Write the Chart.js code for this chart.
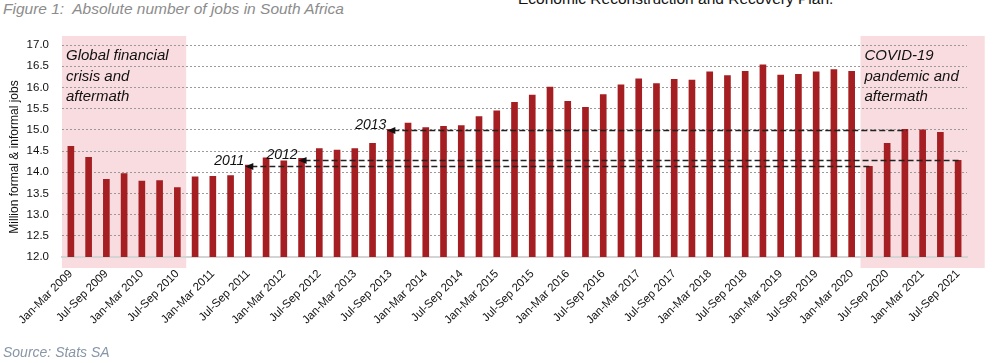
<!DOCTYPE html>
<html>
<head>
<meta charset="utf-8">
<script src="https://cdn.jsdelivr.net/npm/chart.js@4.4.1/dist/chart.umd.min.js"></script>
<style>
  html, body { margin: 0; padding: 0; background: #fff; }
  body { width: 997px; height: 363px; position: relative; overflow: hidden; font-family: Arial, "Liberation Sans", sans-serif; }
  #wrap { position: absolute; left: 0; top: 0; width: 997px; height: 363px; }
  .fig { position: absolute; left: 3px; top: 0px; font: italic 15.5px "Liberation Sans Narrow", "Arial Narrow", Arial, sans-serif; color: #8c8c8c; white-space: nowrap; }
  .cut { position: absolute; left: 518px; top: -10px; font: 15.5px Arial, "Liberation Sans", sans-serif; color: #111; white-space: nowrap; line-height: 17px; }
  .src { position: absolute; left: 3px; top: 344px; font: italic 14px Arial, "Liberation Sans", sans-serif; color: #8896a8; white-space: nowrap; }
</style>
</head>
<body>
<div class="fig">Figure 1:&nbsp; Absolute number of jobs in South Africa</div>
<div class="cut">Economic Reconstruction and Recovery Plan.</div>
<div id="wrap"><canvas id="chart"></canvas></div>
<div class="src">Source: Stats SA</div>
<script>
// quarters Jan-Mar 2009 .. Jul-Sep 2021
const years = [2009, 2010, 2011, 2012, 2013, 2014, 2015, 2016, 2017, 2018, 2019, 2020, 2021];
const quarters = ["Jan-Mar", "Apr-Jun", "Jul-Sep", "Oct-Dec"];
const labels = [];
years.forEach((y) => {
  quarters.forEach((q) => {
    if (labels.length < 51) labels.push(q + " " + y);
  });
});

// million formal & informal jobs
const jobs = [
  14.61, 14.35, 13.83, 13.97, 13.79, 13.80, 13.64, 13.89, 13.90, 13.92,
  14.17, 14.34, 14.27, 14.33, 14.56, 14.52, 14.56, 14.68, 15.01, 15.16,
  15.05, 15.08, 15.10, 15.31, 15.45, 15.65, 15.82, 16.01, 15.67, 15.53,
  15.83, 16.06, 16.20, 16.09, 16.19, 16.17, 16.37, 16.28, 16.38, 16.53,
  16.29, 16.31, 16.37, 16.42, 16.38, 14.14, 14.68, 15.01, 15.00, 14.94,
  14.28
];

// shaded periods (first and last category index)
const shadeRanges = [[0, 6], [45, 51]];
const shadeTexts = [
  ["Global financial", "crisis and", "aftermath"],
  ["COVID-19", "pandemic and", "aftermath"]
];

// reference lines: label, from index, to index, level
const refYears = ["2011", "2012", "2013"];
const refFrom = [10, 13, 18];
const refTo = [45, 50, 47];
const refLevel = [14.15, 14.29, 15.0];

const yTitle = "Million formal & informal jobs";

const BAR = "#a51e22";
const SHADE = "#f8dcdf";
const FONT = "Arial, 'Liberation Sans', sans-serif";

// pink background boxes + their captions
const shadePlugin = {
  id: "shade",
  beforeDraw(chart) {
    const { ctx, chartArea, scales } = chart;
    const catW = chartArea.width / labels.length;
    const top = scales.y.getPixelForValue(17) - 9;
    const bottom = chartArea.bottom + 11;
    ctx.save();
    shadeRanges.forEach((r, i) => {
      const x0 = chartArea.left + r[0] * catW;
      const x1 = chartArea.left + (r[1] + 1) * catW;
      ctx.fillStyle = SHADE;
      ctx.fillRect(x0, top, x1 - x0, bottom - top);
      ctx.fillStyle = "#111";
      ctx.font = "italic 15px " + FONT;
      ctx.textBaseline = "middle";
      ctx.textAlign = "left";
      shadeTexts[i].forEach((t, k) => {
        ctx.fillText(t, x0 + 4, top + 20 + k * 20.5);
      });
    });
    // y axis title, drawn by hand so it sits where the original does
    ctx.translate(15, chartArea.top + chartArea.height / 2 + 6);
    ctx.rotate(-Math.PI / 2);
    ctx.fillStyle = "#111";
    ctx.font = "12px " + FONT;
    ctx.textAlign = "center";
    ctx.fillText(yTitle, 0, 0);
    ctx.restore();
  }
};

// dashed reference lines with arrows
const refPlugin = {
  id: "refs",
  afterDatasetsDraw(chart) {
    const { ctx, scales } = chart;
    const x = scales.x, y = scales.y;
    ctx.save();
    refYears.forEach((yr, i) => {
      const yy = Math.round(y.getPixelForValue(refLevel[i])) + 0.5;
      const xs = x.getPixelForValue(refFrom[i]) - 3;
      const xe = x.getPixelForValue(refTo[i]) + 2;
      ctx.strokeStyle = "#222";
      ctx.lineWidth = 1.5;
      ctx.setLineDash([6, 3]);
      ctx.beginPath();
      ctx.moveTo(xs + 6, yy);
      ctx.lineTo(xe, yy);
      ctx.stroke();
      ctx.setLineDash([]);
      ctx.fillStyle = "#111";
      ctx.beginPath();
      ctx.moveTo(xs, yy);
      ctx.lineTo(xs + 8, yy - 3.5);
      ctx.lineTo(xs + 8, yy + 3.5);
      ctx.closePath();
      ctx.fill();
      ctx.font = "italic 14px " + FONT;
      ctx.textAlign = "right";
      ctx.textBaseline = "middle";
      ctx.fillText(yr, xs - 1, yy - 5);
    });
    ctx.restore();
  }
};

new Chart(document.getElementById("chart"), {
  type: "bar",
  data: {
    labels: labels,
    datasets: [{
      data: jobs,
      backgroundColor: BAR,
      barThickness: 6,
      borderWidth: 0
    }]
  },
  options: {
    responsive: true,
    maintainAspectRatio: false,
    animation: false,
    layout: { padding: { top: 45, right: 30, bottom: 26, left: 0 } },
    plugins: {
      legend: { display: false },
      tooltip: { enabled: false }
    },
    scales: {
      x: {
        grid: { display: false },
        border: { color: "#d4d4d4", width: 2 },
        ticks: {
          autoSkip: false,
          minRotation: 45,
          maxRotation: 45,
          padding: 2,
          color: "#111",
          font: { size: 11.5, family: FONT },
          callback: function (v, i) { return i % 2 === 0 ? labels[i] : ""; }
        },
        afterFit(scale) { scale.height = 80; }
      },
      y: {
        min: 12,
        max: 17,
        border: { display: false, dash: [2, 2] },
        grid: {
          drawTicks: false,
          color: (c) => (c.tick && c.tick.value === 12 ? "rgba(0,0,0,0)" : "#9a9a9a"),
          lineWidth: 1
        },
        ticks: {
          stepSize: 0.5,
          padding: 13,
          color: "#111",
          font: { size: 11.5, family: FONT },
          callback: (v) => v.toFixed(1)
        },
        afterFit(scale) { scale.width = 62; }
      }
    }
  },
  plugins: [shadePlugin, refPlugin]
});
</script>
</body>
</html>
